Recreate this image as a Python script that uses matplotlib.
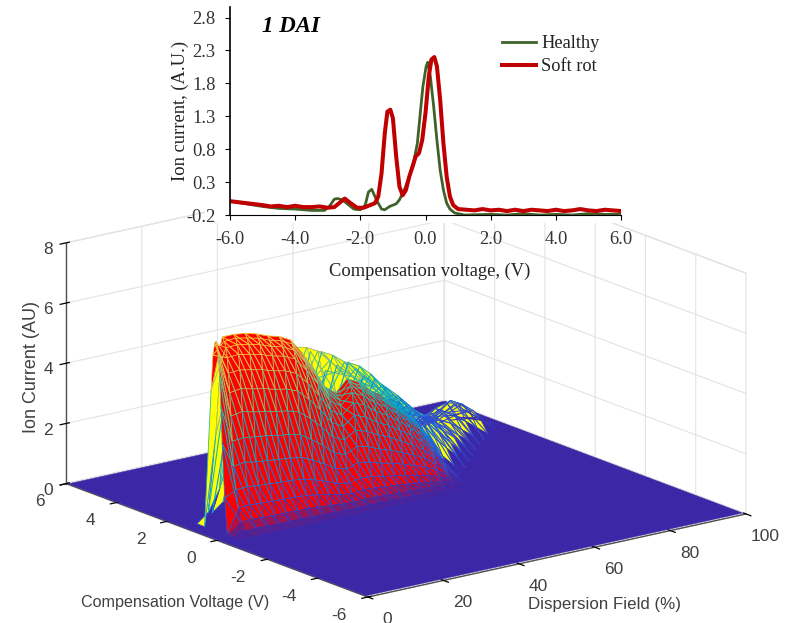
import numpy as np
import matplotlib
matplotlib.use("Agg")
import matplotlib.pyplot as plt
from matplotlib.colors import LinearSegmentedColormap, to_rgba
from matplotlib.patches import Rectangle
from mpl_toolkits.mplot3d.art3d import Line3DCollection

W, H = 797, 623

# ---- top chart: 1 DAI
healthy_x = [-6, -5.5, -5, -4.5, -4, -3.5, -3.1, -2.95, -2.8, -2.7, -2.55, -2.4, -2.2, -2, -1.85, -1.75, -1.65, -1.55,
             -1.45, -1.35, -1.25, -1.1, -0.9, -0.8, -0.65, -0.5, -0.35, -0.25, -0.15, -0.08, 0.02, 0.07, 0.15, 0.25,
             0.35, 0.45, 0.55, 0.65, 0.75, 0.9, 1.2, 2, 2.5, 3, 3.5, 4, 4.5, 5, 5.5, 6]
healthy_y = [0.01, -0.03, -0.07, -0.1, -0.11, -0.13, -0.13, -0.07, 0.04, 0.05, 0.03, -0.03, -0.11, -0.12, -0.05, 0.15,
             0.19, 0.08, -0.02, -0.11, -0.12, -0.07, -0.03, 0.03, 0.18, 0.38, 0.64, 0.89, 1.4, 1.75, 2.06, 2.12, 1.9,
             1.45, 0.94, 0.48, 0.18, -0.02, -0.11, -0.17, -0.2, -0.19, -0.2, -0.18, -0.2, -0.19, -0.2, -0.18, -0.19,
             -0.19]
rot_x = [-6, -5.5, -5, -4.75, -4.5, -4.25, -4, -3.75, -3.5, -3.25, -3, -2.8, -2.65, -2.48, -2.3, -2.1, -1.9, -1.7,
         -1.55, -1.45, -1.35, -1.25, -1.17, -1.08, -1, -0.9, -0.8, -0.7, -0.6, -0.5, -0.4, -0.3, -0.2, -0.1, 0, 0.1,
         0.18, 0.27, 0.35, 0.45, 0.55, 0.65, 0.75, 0.85, 1, 1.25, 1.5, 1.75, 2, 2.25, 2.5, 2.75, 3, 3.25, 3.5, 3.75, 4,
         4.25, 4.5, 4.75, 5, 5.25, 5.5, 5.75, 6]
rot_y = [0.01, -0.02, -0.05, -0.07, -0.06, -0.08, -0.06, -0.08, -0.08, -0.07, -0.09, -0.08, -0.02, 0.05, -0.02, -0.09,
         -0.09, -0.05, -0.02, 0.08, 0.43, 1.04, 1.37, 1.4, 1.27, 0.69, 0.23, 0.1, 0.18, 0.38, 0.53, 0.69, 0.74, 0.94,
         1.35, 1.9, 2.16, 2.2, 2.06, 1.55, 0.89, 0.38, 0.08, -0.05, -0.11, -0.12, -0.13, -0.11, -0.13, -0.12, -0.14,
         -0.12, -0.14, -0.12, -0.13, -0.14, -0.12, -0.14, -0.13, -0.11, -0.13, -0.14, -0.12, -0.13, -0.14]
top_xticks = [-6, -4, -2, 0, 2, 4, 6]
top_yticks = [-0.2, 0.3, 0.8, 1.3, 1.8, 2.3, 2.8]

# ---- 3D chart: front wall of the peak (one line per dispersion field)
wall_df = [4, 7, 10, 13, 16, 19, 22, 25, 28, 31, 34, 37, 40, 43, 46, 49, 52, 55, 58, 61, 64, 67]
wall_cv = [-0.3, -0.05, 0.1, 0.2, 0.3, 0.4, 0.45, 0.5, 0.55, 0.6, 0.65, 0.7, 0.77, 0.84]
wall_z = [
    [0, 0, 0, .05, 1.2, 3, 4.2, 5.2, 5.8, 6.1, 6.3, 6.2, 5.8, 4.6],
    [0, .13, .38, .82, 1.39, 2.14, 2.96, 3.78, 4.54, 5.17, 5.67, 5.99, 6.17, 6.3],
    [0, .14, .4, .85, 1.42, 2.2, 3.0, 3.85, 4.6, 5.2, 5.7, 6.0, 6.2, 6.3],
    [0, .12, .37, .81, 1.37, 2.12, 2.94, 3.75, 4.5, 5.12, 5.62, 5.94, 6.12, 6.25],
    [0, .12, .37, .8, 1.35, 2.09, 2.89, 3.69, 4.43, 5.04, 5.53, 5.84, 6.03, 6.15],
    [0, .12, .36, .78, 1.32, 2.04, 2.82, 3.6, 4.32, 4.92, 5.4, 5.7, 5.88, 6.0],
    [0, .12, .35, .77, 1.3, 2.0, 2.77, 3.54, 4.25, 4.84, 5.31, 5.6, 5.78, 5.9],
    [0, .11, .34, .74, 1.25, 1.94, 2.68, 3.42, 4.1, 4.67, 5.13, 5.41, 5.59, 5.7],
    [0, .1, .31, .68, 1.14, 1.77, 2.44, 3.12, 3.74, 4.26, 4.68, 4.94, 5.1, 5.2],
    [0, .09, .28, .6, 1.01, 1.56, 2.16, 2.76, 3.31, 3.77, 4.14, 4.37, 4.51, 4.6],
    [0, .08, .23, .51, .86, 1.33, 1.83, 2.34, 2.81, 3.2, 3.51, 3.7, 3.82, 3.9],
    [0, .07, .22, .47, .79, 1.22, 1.69, 2.16, 2.59, 2.95, 3.24, 3.42, 3.53, 3.6],
    [0, .08, .24, .52, .88, 1.36, 1.88, 2.4, 2.88, 3.28, 3.6, 3.8, 3.92, 4.0],
    [0, .08, .23, .49, .84, 1.29, 1.79, 2.28, 2.74, 3.12, 3.42, 3.61, 3.72, 3.8],
    [0, .07, .21, .45, .76, 1.17, 1.62, 2.07, 2.48, 2.83, 3.1, 3.28, 3.38, 3.45],
    [0, .06, .19, .42, .7, 1.09, 1.5, 1.92, 2.3, 2.62, 2.88, 3.04, 3.14, 3.2],
    [0, .06, .17, .37, .63, .97, 1.34, 1.71, 2.05, 2.34, 2.57, 2.71, 2.79, 2.85],
    [0, .05, .15, .33, .55, .85, 1.18, 1.5, 1.8, 2.05, 2.25, 2.38, 2.45, 2.5],
    [0, .04, .13, .27, .46, .71, .99, 1.26, 1.51, 1.72, 1.89, 2.0, 2.06, 2.1],
    [0, .03, .09, .2, .33, .51, .71, .9, 1.08, 1.23, 1.35, 1.43, 1.47, 1.5],
    [0, .02, .05, .1, .18, .27, .38, .48, .58, .66, .72, .76, .78, .8],
    [0, 0, .01, .02, .03, .05, .07, .09, .11, .12, .14, .14, .15, .15],
]

# ---- 3D chart: back ridge (one line per dispersion field)
ridge_df = [4, 7, 10, 13, 16, 19, 22, 25, 28, 31, 34, 37, 40, 43, 46, 49, 52, 55, 58, 61, 64, 67, 70, 73, 76, 79, 82,
            85, 88, 91, 94, 97]
ridge_cv = [0.84, 1.1, 1.4, 1.7, 2.0, 2.3, 2.6, 2.9, 3.2, 3.5, 3.8, 4.1, 4.4, 4.7]
ridge_z = [
    [4.6, 0, 0, 0, 0, 0, 0, 0, 0, 0, 0, 0, 0, 0],
    [6.3, 3.0, .3, 0, 0, 0, 0, 0, 0, 0, 0, 0, 0, 0],
    [6.3, 4.5, 1.0, .1, 0, 0, 0, 0, 0, 0, 0, 0, 0, 0],
    [6.25, 5.2, 2.2, .4, 0, 0, 0, 0, 0, 0, 0, 0, 0, 0],
    [6.15, 5.5, 3.0, .8, .1, 0, 0, 0, 0, 0, 0, 0, 0, 0],
    [6.0, 5.6, 3.6, 1.3, .2, 0, 0, 0, 0, 0, 0, 0, 0, 0],
    [5.9, 5.6, 4.1, 1.8, .4, 0, 0, 0, 0, 0, 0, 0, 0, 0],
    [5.7, 5.6, 4.5, 2.3, .7, .1, 0, 0, 0, 0, 0, 0, 0, 0],
    [5.2, 5.3, 4.6, 2.7, 1.0, .2, 0, 0, 0, 0, 0, 0, 0, 0],
    [4.6, 5.2, 4.8, 3.1, 1.3, .3, 0, 0, 0, 0, 0, 0, 0, 0],
    [3.9, 5.0, 4.9, 3.5, 1.6, .5, .1, 0, 0, 0, 0, 0, 0, 0],
    [3.6, 4.6, 4.8, 3.8, 2.0, .7, .2, 0, 0, 0, 0, 0, 0, 0],
    [4.0, 4.2, 4.6, 4.0, 2.4, 1.0, .3, 0, 0, 0, 0, 0, 0, 0],
    [3.8, 3.9, 4.3, 4.1, 2.8, 1.3, .4, .1, 0, 0, 0, 0, 0, 0],
    [3.45, 3.6, 4.0, 4.1, 3.1, 1.6, .6, .1, 0, 0, 0, 0, 0, 0],
    [3.2, 3.3, 3.6, 3.9, 3.3, 1.9, .8, .2, 0, 0, 0, 0, 0, 0],
    [2.85, 3.0, 3.2, 3.55, 3.4, 2.2, 1.0, .3, .1, 0, 0, 0, 0, 0],
    [2.5, 2.6, 2.8, 3.1, 3.2, 2.3, 1.2, .4, .1, 0, 0, 0, 0, 0],
    [2.1, 2.2, 2.4, 2.7, 2.85, 2.4, 1.4, .5, .15, 0, 0, 0, 0, 0],
    [1.5, 1.7, 2.0, 2.3, 2.5, 2.3, 1.5, .6, .2, 0, 0, 0, 0, 0],
    [.8, 1.2, 1.6, 1.9, 2.1, 2.2, 1.6, .7, .3, .1, 0, 0, 0, 0],
    [.15, .6, 1.1, 1.5, 1.7, 1.8, 1.6, .9, .4, .1, 0, 0, 0, 0],
    [0, .2, .7, 1.1, 1.4, 1.5, 1.5, 1.1, .6, .2, 0, 0, 0, 0],
    [0, .05, .3, .7, 1.0, 1.2, 1.3, 1.2, .8, .3, .1, 0, 0, 0],
    [0, 0, .1, .3, .7, .9, 1.1, 1.2, 1.0, .5, .2, 0, 0, 0],
    [0, 0, 0, .1, .3, .6, .9, 1.2, 1.2, .8, .3, .1, 0, 0],
    [0, 0, 0, 0, .1, .3, .6, 1.0, 1.3, 1.0, .5, .2, 0, 0],
    [0, 0, 0, 0, 0, .1, .3, .7, 1.2, 1.2, .7, .3, .1, 0],
    [0, 0, 0, 0, 0, 0, .1, .4, .9, 1.0, .9, .4, .1, 0],
    [0, 0, 0, 0, 0, 0, 0, .1, .5, .7, .6, .3, .1, 0],
    [0, 0, 0, 0, 0, 0, 0, 0, .2, .3, .3, .2, .1, 0],
    [0, 0, 0, 0, 0, 0, 0, 0, .05, .1, .1, .05, 0, 0],
]
df_ticks = [0, 20, 40, 60, 80, 100]
cv_ticks = [-6, -4, -2, 0, 2, 4, 6]
z_ticks = [0, 2, 4, 6, 8]

plt.rcParams["grid.color"] = "#e3e3e3"
plt.rcParams["grid.linewidth"] = 0.8
plt.rcParams["axes.unicode_minus"] = False

floor_color = "#3c27a7"
parula = LinearSegmentedColormap.from_list("parula", [floor_color, "#2c55d8", "#1283d4", "#06a4ca", "#2eb7a4",
                                                      "#87bf77", "#d1bb59", "#fec832", "#f9fb0e"])


def cell_mean(z):
    return (z[:-1, :-1] + z[1:, 1:] + z[:-1, 1:] + z[1:, :-1]) / 4


def add_diagonals(ax, x, y, z, zorder, lw):
    # extra wires across the cells, leaning down to the right like the original mesh
    segs, cols = [], []
    for i in range(z.shape[0] - 2):
        for j in range(1, z.shape[1]):
            if min(z[i, j], z[i + 2, j - 1]) <= 0:
                continue
            segs.append([(x[i, j], y[i, j], z[i, j]), (x[i + 2, j - 1], y[i + 2, j - 1], z[i + 2, j - 1])])
            cols.append(parula(min((z[i, j] + z[i + 2, j - 1]) / 14.0, 1)))
    ax.add_collection3d(Line3DCollection(segs, colors=cols, linewidths=lw, zorder=zorder))


fig = plt.figure(figsize=(W / 100, H / 100), dpi=100)

# 3D axes, placed so the box lands on the same pixels
ax = fig.add_axes([41 / W, -120.5 / H, 711 / W, 711 / H], projection="3d")
ax.patch.set_alpha(0)
ax.set_proj_type("ortho")
ax.view_init(elev=16.7, azim=-127.4)
ax.set_box_aspect((460, 480, 243))
ax.computed_zorder = False
ax.set_xlim(0, 100)
ax.set_ylim(-6, 6)
ax.set_zlim(0, 8)
ax.set_xticks(df_ticks)
ax.set_yticks(cv_ticks)
ax.set_zticks(z_ticks)
for a in (ax.xaxis, ax.yaxis, ax.zaxis):
    a.set_pane_color((1, 1, 1, 1))
    a.pane.set_edgecolor("#e3e3e3")
    a.line.set_color("#505050")
    a.line.set_linewidth(1.0)
    a._axinfo["tick"]["color"] = "#505050"
    a._axinfo["tick"]["linewidth"] = {True: 0.9, False: 0.9}
ax.tick_params(labelsize=12.5, labelcolor="#404040", labelfontfamily="Liberation Sans")
ax.tick_params(axis="x", pad=9)
ax.tick_params(axis="y", pad=7)
ax.tick_params(axis="z", pad=-1)
for t in ax.xaxis.get_major_ticks():
    t.label1.set_va("center")
for t in ax.yaxis.get_major_ticks():
    t.label1.set_va("center")
    t.label1.set_ha("right")

# floor stops just short of the axis lines
fx, fy = np.meshgrid([0.4, 100], [-5.85, 6])
ax.plot_surface(fx, fy, np.zeros((2, 2)), color=floor_color, shade=False, edgecolor=floor_color, linewidth=0.3,
                zorder=1)

# back ridge: yellow cells, blue where the ridge has died away
rx, ry = np.meshgrid(ridge_df, ridge_cv)
rz = np.array(ridge_z).T
mid = cell_mean(rz)
fc = np.zeros(mid.shape + (4,))
fc[mid > 0.45] = to_rgba("#ffff00")
fc[mid <= 0.45] = to_rgba(floor_color)
fc[mid <= 0.0] = (0, 0, 0, 0)
s1 = ax.plot_surface(rx, ry, rz, rstride=1, cstride=1, facecolors=fc, shade=False, linewidth=0.6, zorder=2)
ec = parula(np.clip(mid / 7.0, 0, 1))
ec[mid <= 0.0] = (0, 0, 0, 0)
s1.set_edgecolor(ec.reshape(-1, 4))
add_diagonals(ax, rx, ry, rz, 3, 0.8)

# front wall: red cells, going over into the floor colour at the foot
wx, wy = np.meshgrid(wall_df, wall_cv)
wz = np.array(wall_z).T
mid = cell_mean(wz)
mix = np.clip(mid / 0.5, 0, 1)[..., None]
fc = np.ones(mid.shape + (4,))
fc[..., :3] = mix * np.array(to_rgba("#ff0000")[:3]) + (1 - mix) * np.array(to_rgba(floor_color)[:3])
s2 = ax.plot_surface(wx, wy, wz, rstride=1, cstride=1, facecolors=fc, shade=False, linewidth=0.5, zorder=4)
s2.set_edgecolor(parula(np.clip(mid / 7.0, 0, 1)).reshape(-1, 4))
add_diagonals(ax, wx, wy, wz, 5, 0.8)

fig.text(81 / W, 1 - 603 / H, "Compensation Voltage (V)", family="Liberation Sans", fontsize=11.6, color="#404040",
         va="center")
fig.text(528 / W, 1 - 605 / H, "Dispersion Field (%)", family="Liberation Sans", fontsize=12.2, color="#404040",
         va="center")
fig.text(31 / W, 1 - 367 / H, "Ion Current (AU)", family="Liberation Sans", fontsize=13, color="#404040",
         rotation=90, va="center", ha="center")

# white block the top chart sits on
fig.add_artist(Rectangle((205 / W, 1 - 223 / H), 428 / W, 223 / H, transform=fig.transFigure, facecolor="white",
                         edgecolor="none", zorder=1))

# top chart
top = fig.add_axes([230 / W, 1 - 215 / H, 391 / W, 208 / H], zorder=2)
top.patch.set_alpha(0)
top.plot(healthy_x, healthy_y, color="#3f6229", lw=2.0, label="Healthy")
top.plot(rot_x, rot_y, color="#c00000", lw=2.9, label="Soft rot")
top.set_xlim(-6, 6)
top.set_ylim(-0.2, 2.96)
top.set_xticks(top_xticks, [f"{v:.1f}" for v in top_xticks])
top.set_yticks(top_yticks, [f"{v:.1f}" for v in top_yticks])
top.spines["top"].set_visible(False)
top.spines["right"].set_visible(False)
top.spines["left"].set_color("black")
top.spines["left"].set_linewidth(1.2)
top.spines["bottom"].set_color("black")
top.spines["bottom"].set_linewidth(0.8)
top.tick_params(length=3.5, width=0.8, color="black", labelsize=13.3, labelcolor="#333333",
                labelfontfamily="Liberation Serif")
top.tick_params(axis="x", pad=8)
top.tick_params(axis="y", pad=7)
top.set_xlabel("Compensation voltage, (V)", family="Liberation Serif", fontsize=13.3, color="#222222", labelpad=10.5,
               x=0.51)
top.set_ylabel("Ion current, (A.U.)", family="Liberation Serif", fontsize=13.3, color="#222222", labelpad=-2)
fig.text(262 / W, 1 - 27 / H, "1 DAI", family="Liberation Serif", fontsize=16.5, style="italic", weight="bold",
         color="black", va="center", zorder=3)
top.legend(loc="upper left", bbox_to_anchor=((502 - 230) / 391, (215 - 35) / 208), frameon=False,
           prop={"family": "Liberation Serif", "size": 13.2}, handlelength=1.85, handletextpad=0.3, labelspacing=0.34,
           borderpad=0, borderaxespad=0, labelcolor="#222222")

fig.savefig("out.png", dpi=100, facecolor="white")
